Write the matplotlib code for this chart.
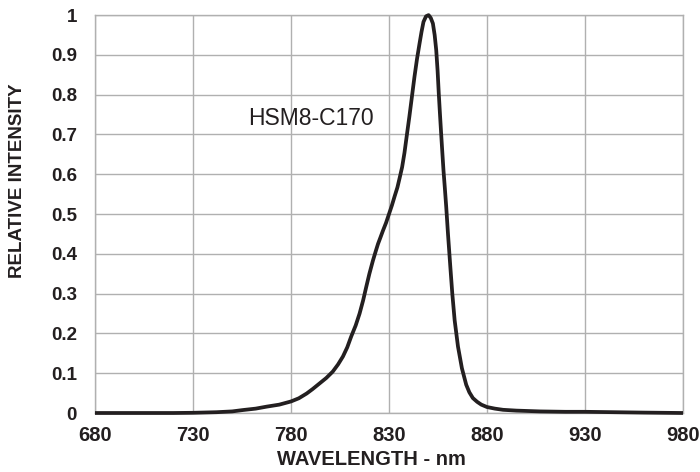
import matplotlib
matplotlib.use("Agg")
import matplotlib.pyplot as plt

# spectrum
wavelength = [680, 700, 720, 730, 742, 750, 755.6, 762, 767.6, 774, 780, 784, 788, 791,
              794.5, 798, 801.3, 804, 806.5, 808.7, 810.7, 813, 815, 816.8, 818.4, 820,
              821.8, 823.2, 824.4, 825.7, 826.9, 828.5, 830, 831.5, 832.9, 834.3, 835.4,
              836.7, 837.9, 839.1, 840.4, 841.7, 843, 844.3, 845.6, 846.6, 847.6, 848.9,
              850.2, 851.3, 852.4, 853.3, 854.1, 854.8, 855.4, 856, 856.6, 857.2, 857.8,
              858.5, 859.2, 860.1, 861.3, 862.3, 863.5, 865.2, 867.2, 869.4, 871, 872.8,
              875, 877.1, 880, 884, 888.2, 895, 907, 920, 930, 945, 960, 980]
intensity = [0.0, 0.0, 0.0, 0.0005, 0.002, 0.004, 0.0075, 0.011, 0.016, 0.021, 0.029, 0.037,
             0.049, 0.06, 0.074, 0.088, 0.104, 0.122, 0.142, 0.165, 0.192, 0.22, 0.25, 0.283,
             0.317, 0.35, 0.383, 0.406, 0.425, 0.442, 0.458, 0.478, 0.50, 0.522, 0.545,
             0.567, 0.59, 0.618, 0.654, 0.698, 0.745, 0.795, 0.845, 0.89, 0.929, 0.958,
             0.983, 0.997, 1.0, 0.993, 0.979, 0.95, 0.912, 0.86, 0.803, 0.752, 0.703, 0.656,
             0.61, 0.565, 0.518, 0.45, 0.367, 0.30, 0.233, 0.167, 0.1125, 0.071, 0.052,
             0.0375, 0.028, 0.021, 0.015, 0.011, 0.008, 0.006, 0.004, 0.003, 0.003, 0.002,
             0.001, 0.0]
x_ticks = [680, 730, 780, 830, 880, 930, 980]
y_ticks = [0, 0.1, 0.2, 0.3, 0.4, 0.5, 0.6, 0.7, 0.8, 0.9, 1]
y_labels = ["0", "0.1", "0.2", "0.3", "0.4", "0.5", "0.6", "0.7", "0.8", "0.9", "1"]
label = "HSM8-C170"

ink = "#231f20"
plt.rcParams["font.family"] = ["Liberation Sans", "DejaVu Sans"]

fig = plt.figure(figsize=(7, 4.72), dpi=100)
ax = fig.add_axes([0.1357, 0.125, 0.84, 0.843])

ax.plot(wavelength, intensity, color=ink, lw=2.7, solid_capstyle="butt", zorder=3,
        clip_on=False)

ax.set_xlim(680, 980)
ax.set_ylim(0, 1)
ax.set_xticks(x_ticks)
ax.set_yticks(y_ticks)
ax.set_yticklabels(y_labels)
ax.grid(True, color="#b0b0b0", lw=1.0)
for s in ax.spines.values():
    s.set_color("#b0b0b0")
    s.set_linewidth(1.0)
ax.tick_params(axis="y", length=0, pad=13, labelsize=13.5, labelcolor=ink)
ax.tick_params(axis="x", length=0, pad=9.5, labelsize=14.5, labelcolor=ink)
for t in ax.get_xticklabels() + ax.get_yticklabels():
    t.set_fontweight("bold")

# axis titles
fig.text(371 / 700, 1 - 465 / 472, "WAVELENGTH - nm", fontsize=14.5, fontweight="bold",
         color=ink, ha="center", va="baseline")
fig.text(17.5 / 700, 1 - 181 / 472, "RELATIVE INTENSITY", fontsize=13.5, fontweight="bold",
         color=ink, ha="center", va="center", rotation=90)

ax.text(822, 0.74, label, fontsize=16.5, color=ink, ha="right", va="center")

fig.savefig("out.png", dpi=100)
